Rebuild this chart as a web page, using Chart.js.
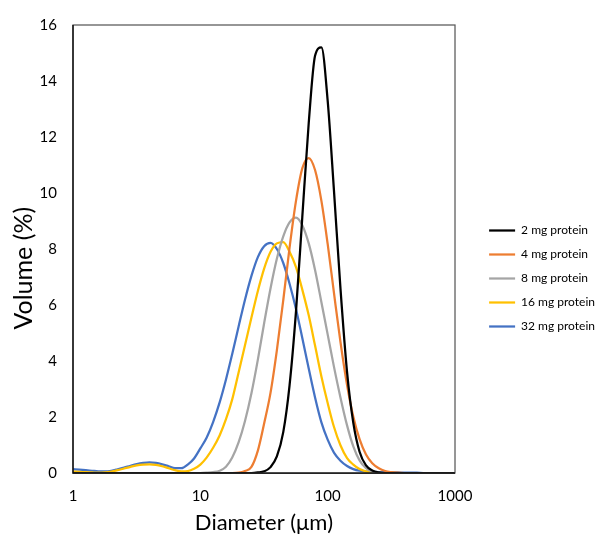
<!DOCTYPE html>
<html>
<head>
<meta charset="utf-8">
<script src="https://cdn.jsdelivr.net/npm/chart.js@4.4.1/dist/chart.umd.min.js"></script>
<style>
  html, body { margin: 0; padding: 0; background: #fff; }
  #wrap { width: 605px; height: 536px; }
</style>
</head>
<body>
<div id="wrap"><canvas id="myChart" width="605" height="536"></canvas></div>
<script>
// particle size distributions, volume % per size class
const diameters = [1, 1.12, 1.26, 1.41, 1.58, 1.78, 2, 2.24, 2.52, 2.83, 3.17, 3.56, 3.99, 4.48, 5.02, 5.64, 6.32, 7.1, 7.96, 8.93,
    10, 11.2, 12.6, 14.2, 15.9, 17.8, 20, 22.4, 25.2, 28.3, 31.7, 35.6, 39.9, 44.8, 50.2, 56.4, 63.2, 71, 79.6, 89.3,
    100, 112, 126, 142, 159, 178, 200, 224, 252, 283, 317, 356, 399, 448, 502, 564, 632, 710, 796, 893, 1000];

const mg2 = [0, 0, 0, 0, 0, 0, 0, 0, 0, 0, 0, 0, 0, 0, 0, 0, 0, 0, 0, 0,
    0, 0, 0, 0, 0, 0, 0, 0, 0, 0.02, 0.06, 0.21, 0.59, 1.46, 3.13, 5.77, 9.14, 12.5, 14.9, 15.2,
    13.3, 10.1, 6.6, 3.6, 1.79, 0.76, 0.27, 0.09, 0.02, 0, 0, 0, 0, 0, 0, 0, 0, 0, 0, 0, 0];

const mg4 = [0, 0, 0, 0, 0, 0, 0, 0, 0, 0, 0, 0, 0, 0, 0, 0, 0, 0, 0, 0,
    0, 0, 0, 0, 0, 0, 0.01, 0.07, 0.22, 0.8, 1.77, 2.87, 4.38, 6.17, 8.05, 9.72, 10.88, 11.25, 10.82, 9.72,
    8.18, 6.44, 4.68, 3.14, 2.01, 1.21, 0.66, 0.35, 0.17, 0.07, 0.03, 0.01, 0, 0, 0, 0, 0, 0, 0, 0, 0];

const mg8 = [0, 0, 0, 0, 0, 0, 0, 0, 0, 0, 0, 0, 0, 0, 0, 0, 0, 0, 0, 0,
    0, 0.01, 0.03, 0.08, 0.22, 0.55, 1.1, 1.85, 2.85, 4.05, 5.35, 6.6, 7.65, 8.45, 8.95, 9.12, 8.85, 8.2, 7.25, 6.1,
    4.95, 3.8, 2.7, 1.7, 0.95, 0.45, 0.17, 0.05, 0.01, 0, 0, 0, 0, 0, 0, 0, 0, 0, 0, 0, 0];

const mg16 = [0.05, 0.04, 0.03, 0.02, 0.01, 0.02, 0.05, 0.1, 0.16, 0.22, 0.27, 0.3, 0.31, 0.29, 0.24, 0.17, 0.1, 0.06, 0.07, 0.15,
    0.3, 0.55, 0.9, 1.35, 1.92, 2.63, 3.6, 4.55, 5.55, 6.5, 7.3, 7.9, 8.2, 8.25, 7.9, 7.35, 6.55, 5.63, 4.55, 3.45,
    2.5, 1.65, 0.99, 0.53, 0.3, 0.14, 0.06, 0.02, 0, 0, 0, 0, 0, 0, 0, 0, 0, 0, 0, 0, 0];

const mg32 = [0.14, 0.12, 0.1, 0.08, 0.06, 0.06, 0.08, 0.13, 0.19, 0.26, 0.32, 0.36, 0.38, 0.36, 0.31, 0.24, 0.17, 0.17, 0.3, 0.52,
    0.88, 1.26, 1.82, 2.53, 3.34, 4.25, 5.24, 6.18, 7.04, 7.71, 8.1, 8.22, 8.0, 7.5, 6.76, 5.86, 4.82, 3.73, 2.7, 1.81,
    1.19, 0.73, 0.44, 0.25, 0.14, 0.08, 0.05, 0.04, 0.03, 0.03, 0.02, 0.02, 0.01, 0.01, 0.01, 0, 0, 0, 0, 0, 0];

const seriesNames = ['2 mg protein', '4 mg protein', '8 mg protein', '16 mg protein', '32 mg protein'];
const seriesData = [mg2, mg4, mg8, mg16, mg32];
const seriesColors = ['#000000', '#ED7D31', '#A5A5A5', '#FFC000', '#4472C4'];

const xTicks = [1, 10, 100, 1000];
const yTicks = [0, 2, 4, 6, 8, 10, 12, 14, 16];

const FONT = 'Lato, "Open Sans", sans-serif';
const plotRight = 455;   // right edge of the plot frame

// thin frame round the plot area
const framePlugin = {
    id: 'frame',
    afterDatasetsDraw(chart) {
        const a = chart.chartArea;
        const ctx = chart.ctx;
        ctx.save();
        ctx.strokeStyle = '#595959';
        ctx.lineWidth = 1.25;
        ctx.strokeRect(a.left, a.top, a.right - a.left, a.bottom - a.top);
        ctx.strokeStyle = '#000';
        ctx.beginPath();
        ctx.moveTo(a.left, a.top);
        ctx.lineTo(a.left, a.bottom);
        ctx.lineTo(a.right, a.bottom);
        ctx.stroke();
        ctx.restore();
    }
};

const datasets = seriesData.map((vals, i) => ({
    label: seriesNames[i],
    data: diameters.map((d, j) => ({x: d, y: vals[j]})),
    borderColor: seriesColors[i],
    backgroundColor: seriesColors[i],
    borderWidth: 2.25,
    pointRadius: 0,
    pointStyle: 'line',
    cubicInterpolationMode: 'monotone',
    fill: false
}));

const ctx = document.getElementById('myChart').getContext('2d');
const myChart = new Chart(ctx, {
    type: 'line',
    data: { datasets: datasets },
    options: {
        responsive: false,
        animation: false,
        layout: { padding: { top: 21, right: 0, left: 0, bottom: 0 } },
        scales: {
            x: {
                type: 'logarithmic',
                position: 'bottom',
                min: 1,
                max: 1000,
                afterBuildTicks: (s) => { s.ticks = xTicks.map(v => ({value: v})); },
                afterFit: (s) => { s.height = 63; },
                grid: { display: false, drawTicks: false },
                border: { display: false },
                ticks: {
                    color: '#000',
                    padding: 14,
                    maxRotation: 0,
                    font: { family: FONT, size: 15 },
                    callback: (v) => String(v)
                },
                title: {
                    display: true,
                    text: 'Diameter (μm)',
                    color: '#000',
                    font: { family: FONT, size: 22 },
                    padding: { top: 0, bottom: 0 }
                }
            },
            y: {
                min: 0,
                max: 16,
                afterBuildTicks: (s) => { s.ticks = yTicks.map(v => ({value: v})); },
                afterFit: (s) => { s.width = 73; },
                grid: { display: false, drawTicks: false },
                border: { display: false },
                ticks: {
                    color: '#000',
                    padding: 16,
                    font: { family: FONT, size: 15 }
                },
                title: {
                    display: true,
                    text: 'Volume (%)      ',
                    color: '#000',
                    font: { family: FONT, size: 25 },
                    padding: { top: 9, bottom: 0 }
                }
            },
            // empty strip between the plot and the legend
            gap: {
                position: 'right',
                display: false,
                afterFit: (s) => { s.width = s.chart.width - s.chart.legend.width - plotRight; }
            }
        },
        plugins: {
            legend: {
                position: 'right',
                labels: {
                    usePointStyle: true,
                    pointStyleWidth: 26,
                    padding: 12,
                    color: '#000',
                    font: { family: FONT, size: 12 }
                }
            },
            tooltip: { enabled: false }
        }
    },
    plugins: [framePlugin]
});
</script>
</body>
</html>
